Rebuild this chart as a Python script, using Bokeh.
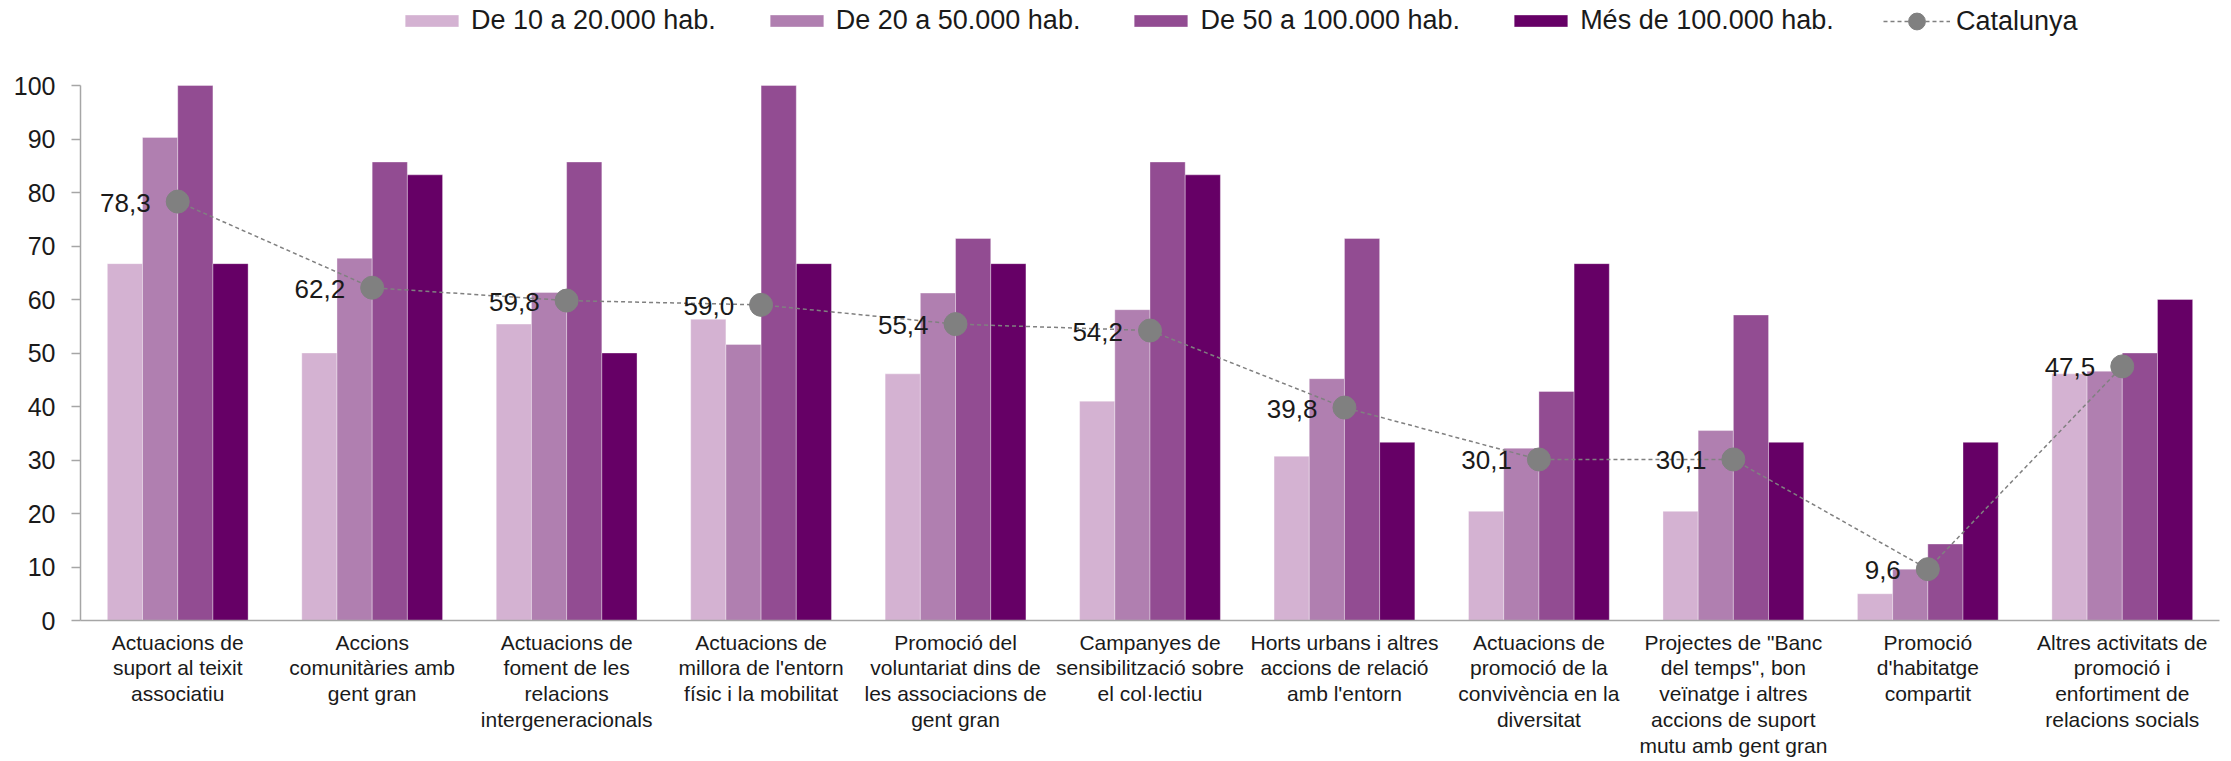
from bokeh.plotting import figure
from bokeh.models import (FactorRange, Range1d, Legend, LegendItem, ColumnDataSource,
                          FixedTicker, LabelSet)
from bokeh.core.properties import value
from bokeh.transform import dodge
from bokeh.embed import file_html
from bokeh.resources import INLINE

categories = [
    "Actuacions de\nsuport al teixit\nassociatiu",
    "Accions\ncomunitàries amb\ngent gran",
    "Actuacions de\nfoment de les\nrelacions\nintergeneracionals",
    "Actuacions de\nmillora de l'entorn\nfísic i la mobilitat",
    "Promoció del\nvoluntariat dins de\nles associacions de\ngent gran",
    "Campanyes de\nsensibilització sobre\nel col·lectiu",
    "Horts urbans i altres\naccions de relació\namb l'entorn",
    "Actuacions de\npromoció de la\nconvivència en la\ndiversitat",
    "Projectes de \"Banc\ndel temps\", bon\nveïnatge i altres\naccions de suport\nmutu amb gent gran",
    "Promoció\nd'habitatge\ncompartit",
    "Altres activitats de\npromoció i\nenfortiment de\nrelacions socials",
]
series_names = ["De 10 a 20.000 hab.", "De 20 a 50.000 hab.", "De 50 a 100.000 hab.", "Més de 100.000 hab."]
s_10_20 = [66.7, 50.0, 55.4, 56.3, 46.1, 41.0, 30.7, 20.4, 20.4, 5.0, 46.1]
s_20_50 = [90.3, 67.7, 61.3, 51.6, 61.2, 58.1, 45.2, 32.2, 35.5, 9.6, 46.6]
s_50_100 = [100.0, 85.7, 85.7, 100.0, 71.4, 85.7, 71.4, 42.8, 57.1, 14.3, 50.0]
s_100_plus = [66.7, 83.3, 50.0, 66.7, 66.7, 83.3, 33.3, 66.7, 33.3, 33.3, 60.0]
catalunya = [78.3, 62.2, 59.8, 59.0, 55.4, 54.2, 39.8, 30.1, 30.1, 9.6, 47.5]
catalunya_name = "Catalunya"
y_ticks = [0, 10, 20, 30, 40, 50, 60, 70, 80, 90, 100]
y_max = 100

colors = ["#D4B2D2", "#B07FB0", "#924C92", "#660066"]
FONT = "Liberation Sans"

src = ColumnDataSource(dict(
    cat=categories, s1=s_10_20, s2=s_20_50, s3=s_50_100, s4=s_100_plus,
    cv=catalunya, lbl=[f"{v:.1f}".replace(".", ",") for v in catalunya],
))

# frame spans the legend area too; axis line is bounded to 0..100
PLOT_H = 535   # pixels for 0..100
TOP_PAD = 85   # pixels above the 100 line (legend area)
p = figure(x_range=FactorRange(*categories, range_padding=0),
           y_range=Range1d(0, y_max * (PLOT_H + TOP_PAD) / PLOT_H),
           frame_width=2139, frame_height=PLOT_H + TOP_PAD,
           output_backend="svg", toolbar_location=None,
           min_border_left=80, min_border_top=0, min_border_right=12, min_border_bottom=0)
p.outline_line_color = None
p.xgrid.grid_line_color = None
p.ygrid.grid_line_color = None

bw = 0.181
offsets = [-1.5 * bw, -0.5 * bw, 0.5 * bw, 1.5 * bw]
bar_renderers = []
for key, off, col in zip(["s1", "s2", "s3", "s4"], offsets, colors):
    r = p.vbar(x=dodge("cat", off, range=p.x_range), top=key, width=bw, bottom=0,
               source=src, fill_color=col, line_color="white", line_alpha=0.35, line_width=1)
    bar_renderers.append(r)

line_r = p.line(x="cat", y="cv", source=src, line_color="#808080", line_width=1.5, line_dash="4 3")
pt_r = p.scatter(x="cat", y="cv", source=src, size=23, fill_color="#808080", line_color="#808080")

labels = LabelSet(x="cat", y="cv", text="lbl", source=src, x_offset=-27, y_offset=-1,
                  text_align="right", text_baseline="middle", text_font=value(FONT),
                  text_font_size=value("26px"), text_color="#1a1a1a")
p.add_layout(labels)

# axes
p.yaxis.ticker = FixedTicker(ticks=y_ticks)
p.yaxis.bounds = (0, y_max)
p.yaxis.axis_line_color = "#A6A6A6"
p.yaxis.axis_line_width = 1.5
p.yaxis.major_tick_line_color = "#A6A6A6"
p.yaxis.major_tick_line_width = 1.5
p.yaxis.major_tick_out = 9
p.yaxis.major_tick_in = 0
p.yaxis.minor_tick_line_color = None
p.yaxis.major_label_standoff = 16
p.yaxis.major_label_text_font = FONT
p.yaxis.major_label_text_font_size = "25px"
p.yaxis.major_label_text_color = "#1a1a1a"

p.xaxis.axis_line_color = "#A6A6A6"
p.xaxis.axis_line_width = 1.5
p.xaxis.major_tick_line_color = None
p.xaxis.minor_tick_line_color = None
p.xaxis.major_tick_out = 0
p.xaxis.major_tick_in = 0
p.xaxis.major_label_standoff = 10
p.xaxis.major_label_text_font = FONT
p.xaxis.major_label_text_font_size = "21px"
p.xaxis.major_label_text_line_height = 1.12
p.xaxis.major_label_text_color = "#1a1a1a"

common = dict(orientation="horizontal", padding=0, margin=0, label_standoff=6,
              label_text_font=FONT, label_text_font_size="27px", label_text_color="#1a1a1a",
              background_fill_alpha=0, border_line_color=None)

bar_items = [LegendItem(label=n, renderers=[r]) for n, r in zip(series_names, bar_renderers)]
legend_bars = Legend(items=bar_items, location=(318, 584), spacing=47,
                     glyph_width=67, glyph_height=15, label_height=30, **common)
p.add_layout(legend_bars, "center")

legend_cat = Legend(items=[LegendItem(label=catalunya_name, renderers=[line_r, pt_r])],
                    location=(1803, 578), spacing=0,
                    glyph_width=67, glyph_height=42, label_height=30, **common)
p.add_layout(legend_cat, "center")

open("out.html", "w").write(file_html(p, INLINE))
